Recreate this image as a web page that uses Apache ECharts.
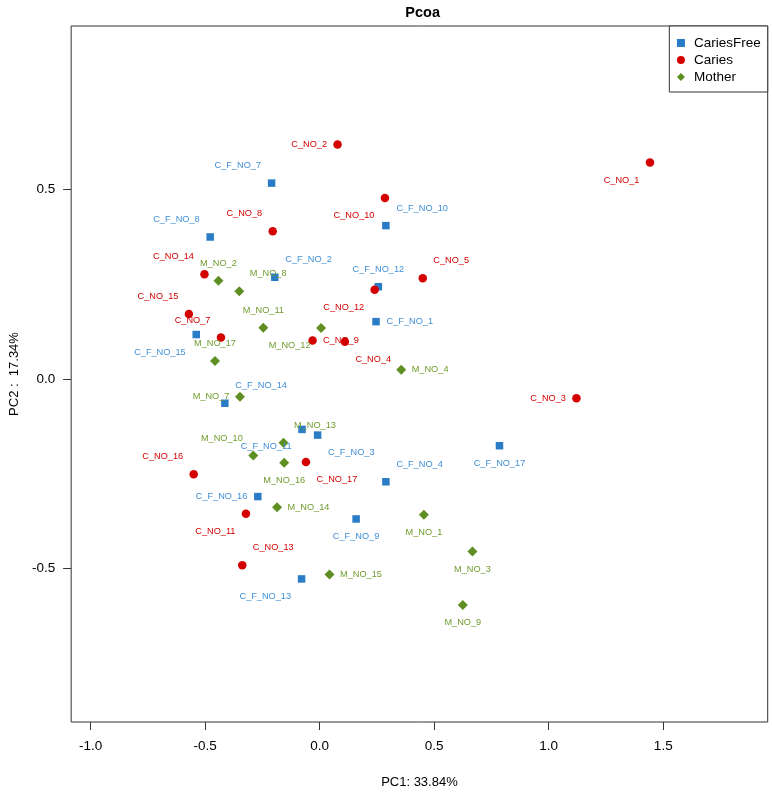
<!DOCTYPE html>
<html>
<head>
<meta charset="utf-8">
<script src="https://cdn.jsdelivr.net/npm/echarts@6/dist/echarts.min.js"></script>
<style>
  html, body { margin: 0; padding: 0; background: #fff; }
  #chart { width: 772px; height: 794px; }
</style>
</head>
<body>
<div id="chart"></div>
<script>
// sample scores
const cfNames = ['C_F_NO_1', 'C_F_NO_2', 'C_F_NO_3', 'C_F_NO_4', 'C_F_NO_7', 'C_F_NO_8', 'C_F_NO_9', 'C_F_NO_10',
  'C_F_NO_11', 'C_F_NO_12', 'C_F_NO_13', 'C_F_NO_14', 'C_F_NO_15', 'C_F_NO_16', 'C_F_NO_17'];
const cfPC1 = [0.246, -0.196, -0.009, 0.289, -0.210, -0.478, 0.159, 0.289, -0.077, 0.256, -0.079, -0.414, -0.539, -0.270, 0.785];
const cfPC2 = [0.151, 0.268, -0.148, -0.271, 0.516, 0.374, -0.369, 0.404, -0.133, 0.243, -0.527, -0.064, 0.117, -0.310, -0.176];

const caNames = ['C_NO_1', 'C_NO_2', 'C_NO_3', 'C_NO_4', 'C_NO_5', 'C_NO_7', 'C_NO_8', 'C_NO_9',
  'C_NO_10', 'C_NO_11', 'C_NO_12', 'C_NO_13', 'C_NO_14', 'C_NO_15', 'C_NO_16', 'C_NO_17'];
const caPC1 = [1.442, 0.078, 1.121, 0.110, 0.450, -0.431, -0.205, -0.031, 0.285, -0.322, 0.240, -0.338, -0.503, -0.571, -0.550, -0.060];
const caPC2 = [0.570, 0.618, -0.051, 0.098, 0.265, 0.109, 0.389, 0.101, 0.477, -0.355, 0.235, -0.491, 0.276, 0.171, -0.251, -0.219];

const moNames = ['M_NO_1', 'M_NO_2', 'M_NO_3', 'M_NO_4', 'M_NO_7', 'M_NO_8', 'M_NO_9', 'M_NO_10',
  'M_NO_11', 'M_NO_12', 'M_NO_13', 'M_NO_14', 'M_NO_15', 'M_NO_16', 'M_NO_17'];
const moPC1 = [0.455, -0.442, 0.667, 0.356, -0.348, -0.351, 0.625, -0.290, -0.246, 0.006, -0.158, -0.186, 0.043, -0.155, -0.457];
const moPC2 = [-0.358, 0.259, -0.455, 0.024, -0.047, 0.231, -0.596, -0.202, 0.135, 0.134, -0.168, -0.338, -0.515, -0.221, 0.047];

const xTicks = [-1.0, -0.5, 0.0, 0.5, 1.0, 1.5];
const yTicks = [-0.5, 0.0, 0.5];

// where each sample's name sits relative to its mark (layout only)
const cfLabelDir = ['r', 'tr', 'br', 'tr', 'tl', 'tl', 'b', 'tr', 'bl', 't', 'bl', 'tr', 'bl', 'l', 'b'];
const caLabelDir = ['bl', 'l', 'l', 'br', 'tr', 'tl', 'tl', 'r', 'bl', 'bl', 'bl', 'tr', 'tl', 'tl', 'tl', 'br'];
const moLabelDir = ['b', 't', 'b', 'r', 'l', 'tr', 'b', 'tl', 't', 'bl', 'tr', 'r', 'r', 'b', 't'];

const FONT = 'Liberation Sans, Arial, sans-serif';
const dirs = {
  r: { align: 'left', offset: [10.5, 0] },
  l: { align: 'right', offset: [-10.5, 0] },
  t: { align: 'center', offset: [0, -17.5] },
  b: { align: 'center', offset: [0, 17.5] },
  tr: { align: 'left', offset: [10.5, -17.5] },
  tl: { align: 'right', offset: [-10.5, -17.5] },
  br: { align: 'left', offset: [10.5, 17.5] },
  bl: { align: 'right', offset: [-10.5, 17.5] },
};

function points(names, xs, ys, labelDir) {
  return names.map((n, i) => ({
    name: n,
    value: [xs[i], ys[i]],
    label: Object.assign({ position: 'inside', verticalAlign: 'middle' }, dirs[labelDir[i]]),
  }));
}

function group(name, symbol, size, color, labelColor, data) {
  return {
    name: name,
    type: 'scatter',
    symbol: symbol,
    symbolSize: size,
    itemStyle: { color: color, opacity: 1 },
    label: {
      show: true,
      formatter: '{b}',
      color: labelColor,
      fontFamily: FONT,
      fontSize: 9.2,
    },
    emphasis: { disabled: true },
    data: data,
  };
}

const chart = echarts.init(document.getElementById('chart'), null, { renderer: 'canvas' });

chart.setOption({
  backgroundColor: '#fff',
  animation: false,
  title: {
    text: 'Pcoa',
    left: 417.7,
    top: 0,
    textAlign: 'center',
    textStyle: { fontFamily: FONT, fontSize: 14.5, fontWeight: 'bold', color: '#000' },
  },
  legend: {
    orient: 'vertical',
    right: 4.3,
    top: 26,
    padding: [9, 7, 7, 7.6],
    itemGap: 1,
    itemWidth: 8,
    itemHeight: 8,
    borderColor: '#333',
    borderWidth: 1,
    backgroundColor: '#fff',
    textStyle: { fontFamily: FONT, fontSize: 13.5, color: '#000', lineHeight: 16, padding: [0, 0, 0, 4] },
    data: [
      { name: 'CariesFree', icon: 'rect' },
      { name: 'Caries', icon: 'circle' },
      { name: 'Mother', icon: 'diamond' },
    ],
  },
  grid: {
    left: 67.7,
    right: 4.3,
    top: 26,
    bottom: 67.3,
    show: true,
    borderColor: '#333',
    borderWidth: 1,
    backgroundColor: 'transparent',
  },
  xAxis: {
    type: 'value',
    min: -1.085,
    max: 1.956,
    name: 'PC1: 33.84%',
    nameLocation: 'middle',
    nameGap: 54,
    nameTextStyle: { fontFamily: FONT, fontSize: 13, color: '#000' },
    splitLine: { show: false },
    axisLine: { show: false, onZero: false },
    axisTick: { show: true, inside: false, length: 8, lineStyle: { color: '#333' }, customValues: xTicks },
    axisLabel: {
      customValues: xTicks,
      margin: 17,
      fontFamily: FONT,
      fontSize: 13.5,
      color: '#000',
      formatter: v => v.toFixed(1),
    },
  },
  yAxis: {
    type: 'value',
    min: -0.904,
    max: 0.930,
    name: 'PC2 :  17.34%',
    nameLocation: 'middle',
    nameGap: 48,
    nameRotate: 90,
    nameTextStyle: { fontFamily: FONT, fontSize: 13, color: '#000' },
    splitLine: { show: false },
    axisLine: { show: false, onZero: false },
    axisTick: { show: true, inside: false, length: 8, lineStyle: { color: '#333' }, customValues: yTicks },
    axisLabel: {
      customValues: yTicks,
      margin: 16,
      fontFamily: FONT,
      fontSize: 13.5,
      color: '#000',
      formatter: v => v.toFixed(1),
    },
  },
  series: [
    group('CariesFree', 'rect', 7.5, '#2a7cc7', '#3f8fd8', points(cfNames, cfPC1, cfPC2, cfLabelDir)),
    group('Caries', 'circle', 8.5, '#d40000', '#d40000', points(caNames, caPC1, caPC2, caLabelDir)),
    group('Mother', 'diamond', 10, '#5f8f22', '#6f9c2c', points(moNames, moPC1, moPC2, moLabelDir)),
  ],
});
</script>
</body>
</html>
